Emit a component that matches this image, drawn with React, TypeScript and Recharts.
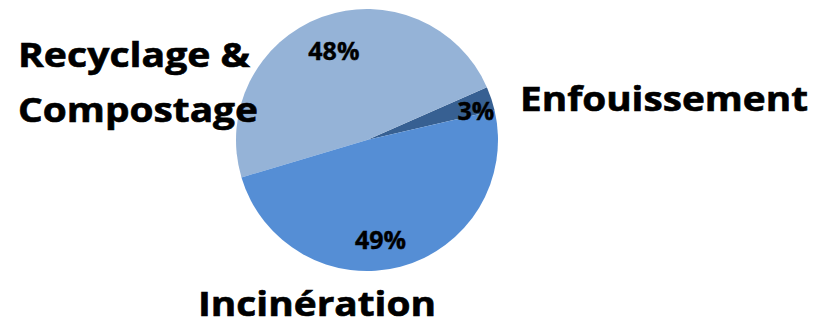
import { PieChart, Pie, Cell } from "recharts";

const categories = ["Enfouissement", "Recyclage & Compostage", "Incinération"];
const shares = [3, 48, 49];
const sliceColors = ["#376092", "#95B3D7", "#558ED5"];

const pieData = categories.map((name, i) => ({ name, value: shares[i] }));

const FONT = "'Open Sans', 'Liberation Sans', sans-serif";
const RADIAN = Math.PI / 180;

// where the big category names sit, relative to the pie centre
const nameSpots: { dx: number; dy: number; lines: { t: string; w: number }[] }[] = [
  { dx: 153, dy: -29, lines: [{ t: "Enfouissement", w: 288 }] },
  {
    dx: -349,
    dy: -73,
    lines: [
      { t: "Recyclage &", w: 232 },
      { t: "Compostage", w: 240 },
    ],
  },
  { dx: -169, dy: 176, lines: [{ t: "Incinération", w: 238 }] },
];
const pctRadius = [113, 96, 100];
const pctShift = [-3, 0, -7];

type LabelProps = {
  cx: number;
  cy: number;
  midAngle: number;
  index: number;
  value: number;
};

function renderLabel({ cx, cy, midAngle, index, value }: LabelProps) {
  const r = pctRadius[index];
  const a = (midAngle + pctShift[index]) * RADIAN;
  const x = cx + r * Math.cos(-a);
  const y = cy + r * Math.sin(-a);
  const spot = nameSpots[index];
  return (
    <g>
      <text
        x={x}
        y={y}
        textAnchor="middle"
        dominantBaseline="central"
        fontFamily={FONT}
        fontWeight={700}
        fontSize={25}
        fill="#000"
        stroke="#000"
        strokeWidth={0.4}
      >
        {value}%
      </text>
      {spot.lines.map((line, i) => (
        <text
          key={line.t}
          x={cx + spot.dx}
          y={cy + spot.dy + i * 55}
          fontFamily={FONT}
          fontWeight={700}
          fontSize={33.5}
          textLength={line.w}
          lengthAdjust="spacingAndGlyphs"
          fill="#000"
          stroke="#000"
          strokeWidth={0.6}
        >
          {line.t}
        </text>
      ))}
    </g>
  );
}

export default function App() {
  return (
    <div style={{ position: "absolute", left: 0, top: 0, background: "#fff" }}>
      <PieChart width={819} height={326} margin={{ top: 0, right: 0, bottom: 0, left: 0 }}>
        <Pie
          data={pieData}
          dataKey="value"
          nameKey="name"
          cx={367}
          cy={140}
          outerRadius={131}
          startAngle={13}
          endAngle={373}
          stroke="none"
          label={renderLabel}
          labelLine={false}
          isAnimationActive={false}
        >
          {pieData.map((d, i) => (
            <Cell key={d.name} fill={sliceColors[i]} />
          ))}
        </Pie>
      </PieChart>
    </div>
  );
}
